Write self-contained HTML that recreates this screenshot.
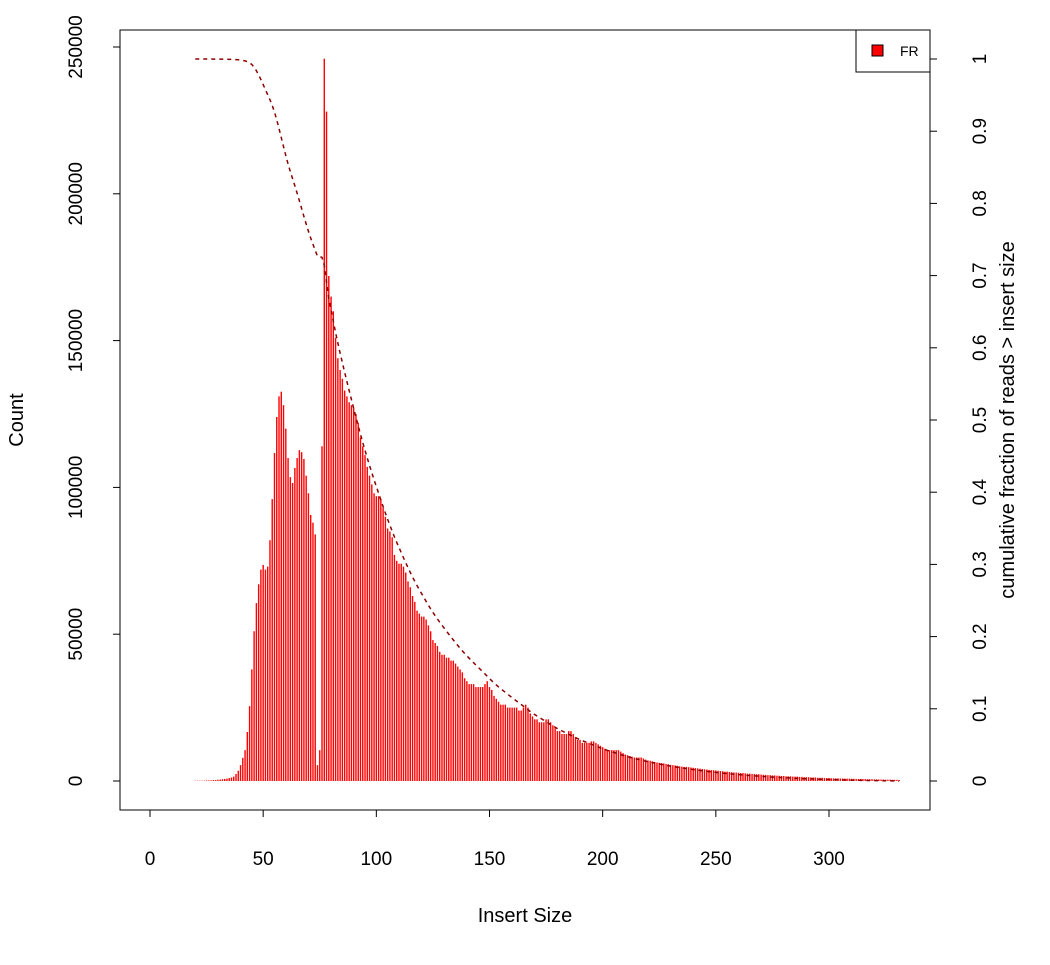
<!DOCTYPE html>
<html><head><meta charset="utf-8"><style>
body{margin:0;background:#fff;}
svg text{font-family:"Liberation Sans",sans-serif;fill:#000;}
</style></head><body>
<svg id="chart" width="1050" height="960" viewBox="0 0 1050 960" xmlns="http://www.w3.org/2000/svg">
<rect x="120" y="30" width="810" height="780" fill="none" stroke="#000" stroke-width="1"/>
<g id="bars"></g>
<path id="cum" fill="none" stroke="#8b0000" stroke-width="1.5" stroke-dasharray="4,4"/>
<g id="axes"></g>
<text x="525" y="922" font-size="20" text-anchor="middle">Insert Size</text>
<text transform="translate(23,420) rotate(-90)" font-size="20" text-anchor="middle">Count</text>
<text transform="translate(1014,420) rotate(-90)" font-size="20" text-anchor="middle">cumulative fraction of reads &gt; insert size</text>
<g>
<rect x="856" y="30" width="74" height="42" fill="#fff" stroke="#000"/>
<rect x="872" y="45" width="11" height="11" fill="#ff0000" stroke="#000"/>
<text x="900" y="56" font-size="14">FR</text>
</g>
</svg>
<script>
const startSize = 20;
const countsK = [
0.1,0.1,0.1,0.1,0.1,0.2,0.2,0.2,0.3,0.3,
0.4,0.5,0.6,0.7,0.8,1.0,1.2,1.5,2.4,3.5,
5.4,7.9,10.5,16.7,25.5,38,51,60.6,67,72,
73.6,72,73,82,96,111.7,124,131,132.6,128,
120,110,103.5,101.5,106.6,110,112.7,112,109.7,104,
98,90.6,88,84,5.4,10.5,114,246,228,172,
165,160,151,144,140,137,133,131,129,128,
127,125,122,117,114,111,107,104,101,98,
97,97,96,93,90,86,85,83,77,75,
74,74,73,71,68,66,63,61,58,57,
56,56,55,53,51,48,47,46,44,43,
43,42,42,41,41,40,39,38,37,35,
34,33,33,33,32,32,32,32,33,34,
32,31,29,28,27,26,26,26,25,25,
25,25,25,24,24,25,26,25,23,22,
21,21,20,20,20,21,21,20,19,18,
17,17,16,16,16,17,17,16,15,14,
14,13,13,13,13,13.5,13.5,13,12.5,12,
11.5,11,10.5,10.5,10.5,10.5,10.5,10.5,10,9.5,
9,8.8,8.5,8.3,8,8,8,8,7.7,7.3,
7,6.9,6.7,6.5,6.3,6.2,6.1,6.0,5.8,5.7,5.5,
5.4,5.3,5.2,5.0,4.9,4.8,4.8,4.7,4.6,4.5,
4.4,4.3,4.2,4.1,4.0,3.9,3.8,3.7,3.7,3.6,
3.5,3.4,3.3,3.2,3.2,3.1,3.0,2.9,2.9,2.8,
2.7,2.7,2.6,2.5,2.5,2.4,2.4,2.3,2.3,2.2,
2.1,2.1,2.0,2.0,1.9,1.9,1.8,1.8,1.7,1.7,
1.6,1.6,1.6,1.5,1.5,1.5,1.4,1.4,1.3,1.3,
1.3,1.2,1.2,1.2,1.1,1.1,1.1,1.0,1.0,1.0,
0.95,0.9,0.9,0.9,0.85,0.85,0.8,0.8,0.8,0.75,
0.75,0.7,0.7,0.7,0.65,0.65,0.6,0.6,0.6,0.55,
0.55,0.5,0.5,0.5,0.45,0.45,0.45,0.4,0.4,0.4,0.35
];
const xTicks = [0,50,100,150,200,250,300];
const yTicks = [0,50000,100000,150000,200000,250000];
const rTicks = [0,0.1,0.2,0.3,0.4,0.5,0.6,0.7,0.8,0.9,1];

const NS = "http://www.w3.org/2000/svg";
function xs(v){return 150 + v*(679/300);}
function ys(v){return 781 - v*(146.8/50000);}
function rs(v){return 781 - v*722;}
function mk(tag, attrs, parent){const e=document.createElementNS(NS,tag);for(const k in attrs)e.setAttribute(k,attrs[k]);parent.appendChild(e);return e;}

const bars = document.getElementById('bars');
countsK.forEach((c,i)=>{
  const x = xs(startSize+i), y = ys(c*1000);
  const r = mk('rect',{x:(x-0.7).toFixed(2),y:y.toFixed(2),width:1.4,height:Math.max(0,781-y).toFixed(2),fill:'#ff0000'},bars);
  
  
});

const total = countsK.reduce((a,b)=>a+b,0);
let cum = 0, d = '';
countsK.forEach((c,i)=>{
  const frac = 1 - cum/total;
  d += (i?'L':'M') + xs(startSize+i).toFixed(2) + ',' + rs(frac).toFixed(2);
  cum += c;
});
document.getElementById('cum').setAttribute('d', d);

const axes = document.getElementById('axes');
mk('line',{x1:xs(0),x2:xs(300),y1:810,y2:810,stroke:'#000'},axes);
xTicks.forEach(t=>{
  mk('line',{x1:xs(t),x2:xs(t),y1:810,y2:817,stroke:'#000'},axes);
  const tx = mk('text',{x:xs(t),y:865,'font-size':19,'text-anchor':'middle'},axes);
  tx.textContent = t;
  
  
});
mk('line',{x1:120,x2:120,y1:ys(0),y2:ys(250000),stroke:'#000'},axes);
yTicks.forEach(t=>{
  mk('line',{x1:113,x2:120,y1:ys(t),y2:ys(t),stroke:'#000'},axes);
  const tx = mk('text',{transform:`translate(82,${ys(t)}) rotate(-90)`,'font-size':19,'text-anchor':'middle'},axes);
  tx.textContent = t;
  
  
});
mk('line',{x1:930,x2:930,y1:rs(0),y2:rs(1),stroke:'#000'},axes);
rTicks.forEach(t=>{
  mk('line',{x1:930,x2:937,y1:rs(t),y2:rs(t),stroke:'#000'},axes);
  const tx = mk('text',{transform:`translate(986,${rs(t)}) rotate(-90)`,'font-size':19,'text-anchor':'middle'},axes);
  tx.textContent = t;
  
  
});
</script>
</body></html>
